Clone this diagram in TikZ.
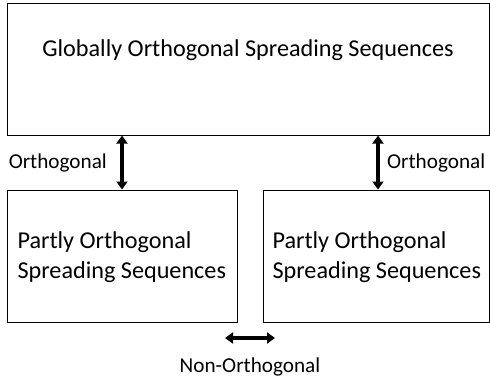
\documentclass[tikz,border=0pt]{standalone}
\usepackage{fontspec}
\setmainfont{Carlito}
\usetikzlibrary{arrows.meta}
\tikzset{
    seqbox/.style={draw, line width=1pt, minimum height=132pt, inner sep=0pt},
    boxtext/.style={font=\fontsize{24.2}{29.5}\selectfont},
    labeltext/.style={font=\fontsize{21.2}{24}\selectfont, inner sep=0pt},
    dblarrow/.style={line width=3.4pt, {Triangle[length=8pt,width=11pt]}-{Triangle[length=8pt,width=11pt]}}
}
\begin{document}
\begin{tikzpicture}[x=1pt,y=-1pt]
        \useasboundingbox (0,0) rectangle (490,381);

        \node[seqbox, minimum width=482pt] (global) at (248,69) {};
        \node[seqbox, minimum width=230pt] (left) at (122,256) {};
        \node[seqbox, minimum width=226pt] (right) at (376,256) {};

        \node[boxtext] (globaltxt) at (248,50) {Globally Orthogonal Spreading Sequences};
        \node[boxtext, anchor=west, align=left] (lefttxt) at (14,257) {Partly Orthogonal\\Spreading Sequences};
        \node[boxtext, anchor=west, align=left] (righttxt) at (269,257) {Partly Orthogonal\\Spreading Sequences};

        \draw[dblarrow] (left.north) -- (left.north |- global.south);
        \draw[dblarrow] ([xshift=2pt]right.north) -- ([xshift=2pt]right.north |- global.south);
        \node[labeltext, anchor=east] (orthleft) at (107,163) {Orthogonal};
        \node[labeltext, anchor=west] (orthright) at (387,163) {Orthogonal};

        \coordinate (nonleft) at (225,338);
        \coordinate (nonright) at (275,338);
        \draw[dblarrow] (nonleft) -- (nonright);
        \node[labeltext] (nonorth) at (250,367) {Non-Orthogonal};
    \end{tikzpicture}
\end{document}
